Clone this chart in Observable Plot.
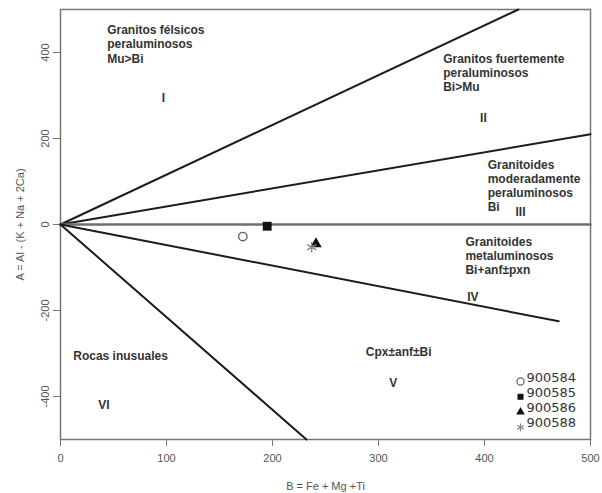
<!DOCTYPE html>
<html>
<head>
<meta charset="utf-8">
<script src="https://cdn.jsdelivr.net/npm/d3@7"></script>
<script src="https://cdn.jsdelivr.net/npm/@observablehq/plot@0.6"></script>
<style>
  html, body { margin: 0; padding: 0; background: #fff; }
  #chart svg { display: block; }
</style>
</head>
<body>
<div id="chart"></div>
<script>
// Sample data (B = Fe + Mg + Ti, A = Al - (K + Na + 2Ca))
const samples = ["900584", "900585", "900586", "900588"];
const sampleB = [172, 195, 241, 237];
const sampleA = [-28, -4, -45, -53];
const sampleSymbols = ["circle", "square", "triangle", "asterisk"];

// Field boundary lines, all from the origin (0, 0)
const boundaryEndB = [432, 500, 500, 470, 232];
const boundaryEndA = [500, 210, 0, -225, -500];

// Field names and their anchor positions (data units)
const fieldNames = [
  "Granitos félsicos\nperaluminosos\nMu>Bi",
  "Granitos fuertemente\nperaluminosos\nBi>Mu",
  "Granitoides\nmoderadamente\nperaluminosos\nBi",
  "Granitoides\nmetaluminosos\nBi+anf±pxn",
  "Rocas inusuales"
];
const fieldNameB = [44, 361, 403, 382, 12];
const fieldNameA = [420, 353, 91, -72, -305];
const centeredFieldName = ["Cpx±anf±Bi"];
const centeredFieldB = [319];
const centeredFieldA = [-298];

// Roman numerals of the fields
const numerals = ["I", "II", "III", "IV", "V", "VI"];
const numeralB = [97, 399, 434, 389, 314, 41];
const numeralA = [293, 247, 28, -170, -370, -421];

// Axis ticks
const xTicks = [0, 100, 200, 300, 400, 500];
const yTicks = [-400, -200, 0, 200, 400];

// ---- build tables ----
const points = samples.map((s, i) => ({sample: s, B: sampleB[i], A: sampleA[i], symbol: sampleSymbols[i]}));
const boundaries = boundaryEndB.map((b, i) => ({B0: 0, A0: 0, B1: b, A1: boundaryEndA[i]}));
const fields = fieldNames.map((t, i) => ({text: t, B: fieldNameB[i], A: fieldNameA[i]}));
const centeredFields = centeredFieldName.map((t, i) => ({text: t, B: centeredFieldB[i], A: centeredFieldA[i]}));
const romans = numerals.map((t, i) => ({text: t, B: numeralB[i], A: numeralA[i]}));

const styleFor = {
  circle:   {fill: "none", stroke: "#666", strokeWidth: 1.4, r: 4.2, lr: 3.6},
  square:   {fill: "#111", stroke: "none", strokeWidth: 0, r: 5, lr: 3.4},
  triangle: {fill: "#111", stroke: "none", strokeWidth: 0, r: 4.3, lr: 3.2},
  asterisk: {fill: "none", stroke: "#888", strokeWidth: 1.4, r: 5, lr: 3.6}
};

const font = "Liberation Sans, Arial, sans-serif";
const labelStyle = {fontSize: 12, fontWeight: "bold", fill: "#333", fontFamily: font};

const marks = [
  Plot.frame({stroke: "#777", strokeWidth: 1.5}),
  Plot.axisX({
    ticks: xTicks, tickSize: 7, tickPadding: 8, tickFormat: d => String(d),
    fontSize: 11, color: "#555", stroke: "#777",
    label: "B = Fe + Mg +Ti", labelAnchor: "center", labelArrow: "none", labelOffset: 50
  }),
  Plot.axisY({
    ticks: yTicks, tickSize: 7, tickPadding: 5, tickRotate: -90, tickFormat: d => String(d),
    fontSize: 11, color: "#555", stroke: "#777",
    label: "A = Al - (K + Na + 2Ca)", labelAnchor: "center", labelArrow: "none", labelOffset: 44
  }),
  Plot.link(boundaries, {
    x1: "B0", y1: "A0", x2: "B1", y2: "A1",
    stroke: d => d.A1 === 0 ? "#6f6f6f" : "#1c1c1c",
    strokeWidth: d => d.A1 === 0 ? 2.4 : 2,
    strokeLinecap: "round"
  }),
  Plot.text(fields, {
    x: "B", y: "A", text: "text", textAnchor: "start",
    lineAnchor: "middle", lineHeight: 1.18, ...labelStyle
  }),
  Plot.text(centeredFields, {
    x: "B", y: "A", text: "text", textAnchor: "middle", ...labelStyle
  }),
  Plot.text(romans, {
    x: "B", y: "A", text: "text", ...labelStyle
  })
];

// data points
sampleSymbols.forEach((sym) => {
  const st = styleFor[sym];
  marks.push(Plot.dot(points.filter(d => d.symbol === sym), {
    x: "B", y: "A", symbol: sym, r: st.r, fill: st.fill, stroke: st.stroke, strokeWidth: st.strokeWidth
  }));
});

// legend (bottom-right inside the frame)
samples.forEach((s, i) => {
  const st = styleFor[sampleSymbols[i]];
  const dy = -58 + i * 15.3;
  marks.push(Plot.dot([points[i]], {
    frameAnchor: "bottom-right", dx: -70, dy, symbol: sampleSymbols[i],
    r: st.lr, fill: st.fill, stroke: st.stroke, strokeWidth: st.strokeWidth * 0.9
  }));
  marks.push(Plot.text([points[i]], {
    frameAnchor: "bottom-right", dx: -64, dy, text: "sample", textAnchor: "start",
    fontSize: 13, fill: "#333", fontFamily: "DejaVu Sans, sans-serif", letterSpacing: 0.6
  }));
});

const chart = Plot.plot({
  width: 602,
  height: 493,
  marginLeft: 60,
  marginRight: 12,
  marginTop: 9,
  marginBottom: 54,
  style: {background: "#fff", fontFamily: font},
  x: {domain: [0, 500]},
  y: {domain: [-500, 500]},
  marks
});
document.getElementById("chart").appendChild(chart);
</script>
</body>
</html>
